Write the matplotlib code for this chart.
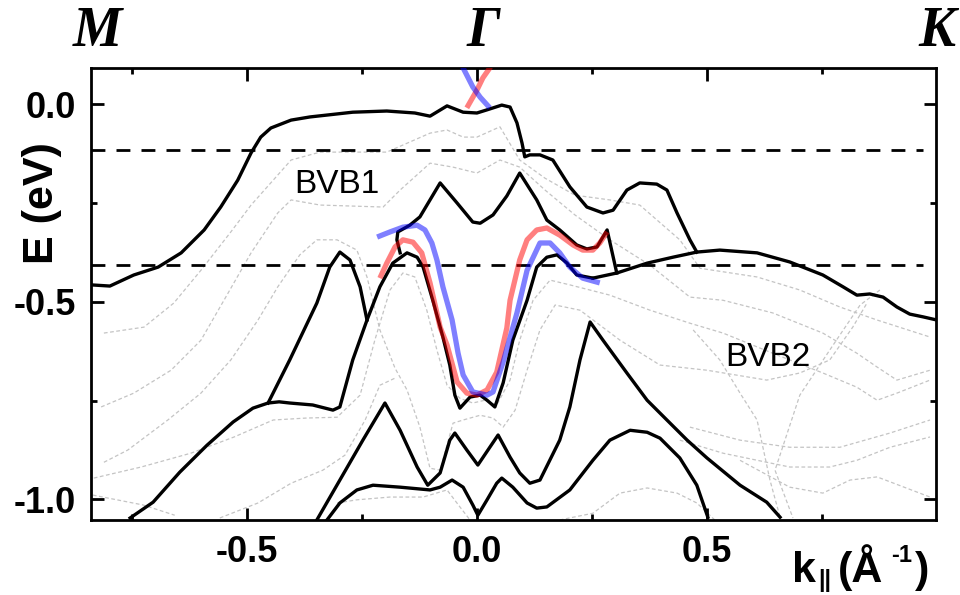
import matplotlib
matplotlib.use('Agg')
import matplotlib.pyplot as plt
import matplotlib.transforms as mtransforms

plt.rcParams['font.family'] = ['Liberation Sans', 'DejaVu Sans']

# ---- calculated bands (black, solid) ----
kA = [-0.839, -0.798, -0.746, -0.693, -0.643, -0.593, -0.557, -0.520, -0.491, -0.470,
      -0.448, -0.404, -0.363, -0.270, -0.196, -0.135, -0.102, -0.065, -0.030, 0.000,
      0.022, 0.054, 0.072, 0.087, 0.098, 0.104, 0.115, 0.137, 0.165, 0.202,
      0.239, 0.274, 0.296, 0.326, 0.354, 0.391, 0.413, 0.435, 0.463, 0.478]
EA = [-0.457, -0.460, -0.432, -0.412, -0.376, -0.318, -0.260, -0.192, -0.123, -0.083,
      -0.060, -0.040, -0.032, -0.020, -0.017, -0.022, -0.030, -0.004, -0.020, -0.022,
      -0.014, -0.002, -0.007, -0.047, -0.098, -0.133, -0.128, -0.128, -0.141, -0.209,
      -0.260, -0.275, -0.268, -0.217, -0.199, -0.202, -0.217, -0.275, -0.343, -0.374]

kB = [0.252, 0.304, 0.370, 0.426, 0.478, 0.528, 0.609, 0.680, 0.752, 0.796,
      0.826, 0.854, 0.883, 0.913, 0.941, 0.970, 1.000]
EB = [-0.440, -0.427, -0.402, -0.387, -0.374, -0.369, -0.376, -0.399, -0.432, -0.462,
      -0.483, -0.480, -0.488, -0.513, -0.531, -0.538, -0.546]

kC = [-0.167, -0.174, -0.172, -0.146, -0.124, -0.102, -0.080, -0.043, -0.009, 0.007,
      0.035, 0.065, 0.093, 0.130, 0.152, 0.180, 0.217, 0.239, 0.261, 0.283, 0.304]
EC = [-0.376, -0.343, -0.323, -0.306, -0.285, -0.242, -0.199, -0.250, -0.298, -0.301,
      -0.280, -0.232, -0.174, -0.242, -0.293, -0.318, -0.356, -0.366, -0.361, -0.318, -0.427]

kD = [-0.754, -0.704, -0.646, -0.587, -0.530, -0.487, -0.454, -0.430, -0.407, -0.357,
      -0.313, -0.298, -0.270, -0.239, -0.211, -0.183, -0.152, -0.130, -0.117, -0.096,
      -0.074, -0.059, -0.048, -0.037, -0.015, 0.007, 0.022, 0.039, 0.057, 0.078,
      0.109, 0.130, 0.152, 0.174, 0.196, 0.217, 0.252]
ED = [-1.047, -1.007, -0.931, -0.863, -0.804, -0.769, -0.756, -0.753, -0.756, -0.761,
      -0.774, -0.766, -0.647, -0.546, -0.462, -0.402, -0.376, -0.387, -0.412, -0.496,
      -0.589, -0.660, -0.736, -0.769, -0.741, -0.736, -0.749, -0.766, -0.705, -0.597,
      -0.496, -0.412, -0.387, -0.381, -0.402, -0.432, -0.440]

kE = [-0.454, -0.407, -0.348, -0.320, -0.298, -0.276, -0.254, -0.239]
EE = [-0.756, -0.647, -0.503, -0.412, -0.374, -0.394, -0.462, -0.546]

kG = [-0.348, -0.298, -0.248, -0.200, -0.167, -0.130, -0.107, -0.080, -0.059, -0.048,
      -0.022, 0.002, 0.028, 0.046, 0.072, 0.093, 0.115, 0.137, 0.180, 0.202,
      0.224, 0.246, 0.274, 0.326, 0.370, 0.413, 0.457, 0.500, 0.572, 0.630, 0.659]
EG = [-1.052, -0.951, -0.850, -0.756, -0.825, -0.918, -0.964, -0.933, -0.850, -0.832,
      -0.875, -0.913, -0.868, -0.837, -0.893, -0.933, -0.959, -0.951, -0.850, -0.766,
      -0.647, -0.551, -0.597, -0.680, -0.749, -0.799, -0.850, -0.895, -0.964, -1.007, -1.045]

kH = [-0.326, -0.298, -0.261, -0.226, -0.167, -0.102, -0.080, -0.054, -0.030, -0.009,
      0.002, 0.022, 0.043, 0.054, 0.078, 0.109, 0.130, 0.152, 0.202, 0.252,
      0.289, 0.333, 0.370, 0.398, 0.441, 0.478, 0.502]
EH = [-1.052, -1.009, -0.976, -0.964, -0.969, -0.976, -0.969, -0.951, -0.969, -1.014,
      -1.040, -1.001, -0.959, -0.946, -0.969, -1.009, -1.022, -1.019, -0.976, -0.901,
      -0.850, -0.825, -0.830, -0.845, -0.895, -0.964, -1.045]

black_bands = [(kA, EA), (kB, EB), (kC, EC), (kD, ED), (kE, EE), (kG, EG), (kH, EH)]

# ---- spin-resolved bands (red / blue) ----
k_red = [-0.211, -0.196, -0.178, -0.161, -0.139, -0.120, -0.102, -0.080, -0.065, -0.043,
         -0.022, 0.000, 0.022, 0.043, 0.065, 0.072, 0.093, 0.109, 0.130, 0.152,
         0.180, 0.209, 0.230, 0.252, 0.267, 0.283]
E_red = [-0.440, -0.402, -0.361, -0.343, -0.349, -0.376, -0.452, -0.564, -0.609, -0.703,
         -0.731, -0.736, -0.723, -0.678, -0.566, -0.496, -0.394, -0.343, -0.318, -0.313,
         -0.331, -0.356, -0.369, -0.369, -0.351, -0.323]
k_red_top = [-0.022, 0.000, 0.013, 0.028, 0.037]
E_red_top = [-0.009, 0.036, 0.067, 0.092, 0.112]

k_blue = [-0.217, -0.189, -0.161, -0.130, -0.113, -0.098, -0.087, -0.074, -0.054, -0.041,
          -0.030, -0.009, 0.022, 0.035, 0.057, 0.087, 0.109, 0.137, 0.159, 0.180,
          0.202, 0.230, 0.267]
E_blue = [-0.336, -0.323, -0.311, -0.306, -0.318, -0.351, -0.394, -0.462, -0.546, -0.630,
          -0.685, -0.728, -0.736, -0.728, -0.652, -0.528, -0.420, -0.351, -0.351, -0.376,
          -0.412, -0.440, -0.452]
k_blue_top = [-0.037, -0.030, -0.009, 0.007, 0.028]
E_blue_top = [0.112, 0.092, 0.044, 0.018, -0.009]

# ---- faint bulk bands (grey dashed) ----
gray_bands = [
    ([-0.811, -0.724, -0.659, -0.600, -0.535, -0.491, -0.433, -0.404, -0.341, -0.196,
      -0.102, -0.065, -0.030, 0.000, 0.050, 0.093, 0.148, 0.213, 0.289, 0.354,
      0.441, 0.485, 0.609, 0.702, 0.789, 0.870, 0.985],
     [-0.579, -0.564, -0.503, -0.420, -0.323, -0.255, -0.179, -0.141, -0.121, -0.121,
      -0.073, -0.065, -0.083, -0.083, -0.057, -0.141, -0.187, -0.230, -0.242, -0.255,
      -0.343, -0.415, -0.437, -0.470, -0.513, -0.546, -0.589]),
    ([-0.817, -0.746, -0.665, -0.600, -0.550, -0.491, -0.433, -0.404, -0.341, -0.204,
      -0.167, -0.102, -0.052, 0.000, 0.050, 0.093, 0.148, 0.213, 0.289, 0.376,
      0.463, 0.535, 0.643, 0.752, 0.826, 0.870, 0.913, 0.985],
     [-0.766, -0.731, -0.673, -0.597, -0.496, -0.376, -0.275, -0.242, -0.255, -0.260,
      -0.217, -0.149, -0.159, -0.174, -0.141, -0.159, -0.217, -0.280, -0.343, -0.407,
      -0.488, -0.496, -0.528, -0.579, -0.630, -0.665, -0.698, -0.673]),
    ([-0.811, -0.759, -0.672, -0.600, -0.535, -0.476, -0.433, -0.385, -0.348, -0.304,
      -0.261, -0.239, -0.211, -0.178, -0.152, -0.124, -0.102, -0.080, -0.052, -0.030,
      0.007, 0.035, 0.057, 0.083, 0.109, 0.137, 0.170, 0.224, 0.311, 0.398,
      0.500, 0.630, 0.702, 0.767, 0.817, 0.848],
     [-0.906, -0.875, -0.799, -0.731, -0.647, -0.546, -0.462, -0.381, -0.343, -0.343,
      -0.369, -0.437, -0.571, -0.668, -0.723, -0.817, -0.921, -0.926, -0.807, -0.799,
      -0.787, -0.794, -0.817, -0.774, -0.673, -0.571, -0.508, -0.521, -0.597, -0.660,
      -0.673, -0.698, -0.680, -0.647, -0.564, -0.503]),
    ([-0.833, -0.730, -0.622, -0.528, -0.443, -0.370, -0.304, -0.254, -0.222, -0.189,
      -0.161, -0.135, -0.109, -0.087, -0.065, -0.037, -0.009, 0.017, 0.043, 0.072,
      0.093, 0.122, 0.159, 0.202, 0.289, 0.376, 0.463, 0.535, 0.643, 0.752,
      0.826, 0.870, 0.913, 0.985],
     [-0.946, -0.918, -0.883, -0.842, -0.799, -0.794, -0.792, -0.736, -0.597, -0.470,
      -0.427, -0.437, -0.521, -0.622, -0.711, -0.744, -0.756, -0.749, -0.761, -0.698,
      -0.597, -0.496, -0.445, -0.457, -0.483, -0.521, -0.554, -0.579, -0.630, -0.680,
      -0.716, -0.749, -0.731, -0.698]),
    ([-0.835, -0.726, -0.657], [-0.989, -1.014, -1.040]),
    ([-0.559, -0.476, -0.404, -0.335, -0.287, -0.243, -0.211, -0.178],
     [-1.047, -1.009, -0.959, -0.926, -0.888, -0.799, -0.711, -0.693]),
    ([-0.304, -0.261, -0.189, -0.117, -0.065, -0.037, -0.015],
     [-1.009, -1.001, -0.994, -0.994, -0.976, -1.019, -1.052]),
    ([0.180, 0.252, 0.311, 0.370, 0.435, 0.478, 0.517],
     [-1.052, -1.035, -0.984, -0.971, -0.984, -1.009, -1.052]),
    ([0.463, 0.572, 0.680, 0.789, 0.898, 0.985],
     [-0.817, -0.850, -0.868, -0.868, -0.832, -0.799]),
    ([0.441, 0.535, 0.680, 0.767, 0.826, 0.898, 0.985],
     [-0.850, -0.883, -0.918, -0.918, -0.901, -0.868, -0.842]),
    ([0.572, 0.680, 0.752, 0.811, 0.870, 0.985],
     [-0.901, -0.969, -0.984, -0.951, -0.943, -0.994]),
    ([0.470, 0.528, 0.572, 0.609, 0.637, 0.659],
     [-0.571, -0.647, -0.731, -0.799, -0.951, -1.045]),
    ([0.876, 0.833, 0.767, 0.702, 0.648, 0.687],
     [-0.470, -0.508, -0.622, -0.736, -0.926, -1.047]),
]

dash_levels = [-0.116, -0.407]
xticks_major = [-0.5, 0.0, 0.5]
yticks_major = [-1.0, -0.5, 0.0]
points = [('M', -0.826), ('\u0393', 0.013), ('K', 1.0)]

fig = plt.figure(figsize=(9.6, 5.95), dpi=100)
ax = fig.add_axes([0.0948, 0.1261, 0.8802, 0.7597])

for k, E in gray_bands:
    ax.plot(k, E, color='#c4c4c4', lw=0.9, dashes=(3, 2), zorder=1)

for level in dash_levels:
    ax.plot([-0.839, 0.97], [level, level], color='black', lw=2.0, dashes=(5, 4), zorder=2)

for k, E in black_bands:
    ax.plot(k, E, color='black', lw=2.4, solid_joinstyle='round', zorder=3)

spin = dict(alpha=0.5, lw=3.8, solid_capstyle='butt', solid_joinstyle='round', zorder=4)
ax.plot(k_red, E_red, color='red', **spin)
ax.plot(k_red_top, E_red_top, color='red', **spin)
ax.plot(k_blue, E_blue, color='blue', **spin)
ax.plot(k_blue_top, E_blue_top, color='blue', **spin)

ax.set_xlim(-0.839, 0.998)
ax.set_ylim(-1.052, 0.092)
ax.set_xticks(xticks_major)
ax.set_yticks(yticks_major)
ax.set_xticks([-0.75, -0.25, 0.25, 0.75], minor=True)
ax.set_yticks([-0.75, -0.25], minor=True)
ax.set_xticklabels(['%.1f' % t for t in xticks_major])
ax.set_yticklabels(['%.1f' % t for t in yticks_major])
ax.tick_params(which='both', direction='in', top=True, right=True, width=2)
ax.tick_params(which='major', length=9, labelsize=26, pad=11)
ax.tick_params(which='minor', length=4.5)
for lab in ax.get_xticklabels() + ax.get_yticklabels():
    lab.set_fontweight('bold')
for sp in ax.spines.values():
    sp.set_linewidth(2)

ax.text(-0.304, -0.202, 'BVB1', fontsize=24, ha='center', va='center', zorder=5)
ax.text(0.633, -0.642, 'BVB2', fontsize=24, ha='center', va='center', zorder=5)

trans = mtransforms.blended_transform_factory(ax.transData, ax.transAxes)
for name, kpos in points:
    ax.text(kpos, 1.08, name, transform=trans, ha='center', va='center',
            family='Liberation Serif', fontstyle='italic', fontweight='bold',
            fontsize=40, clip_on=False)

fig.text(42 / 960, 1 - 203 / 595, 'E (eV)', rotation=90, ha='center', va='center',
         fontsize=31, fontweight='bold')

# x label built piecewise so the superscript keeps a plain hyphen
W, H = 960.0, 595.0
xlabel_parts = [('k', 792, 582, 31), ('||', 818, 587, 17), ('(Å', 838, 582, 31),
                ('-1', 891, 562, 17), (')', 915, 582, 31)]
for txt, px, py, size in xlabel_parts:
    fig.text(px / W, 1 - py / H, txt, ha='left', va='baseline',
             fontsize=size, fontweight='bold')

fig.savefig('out.png', dpi=100)
